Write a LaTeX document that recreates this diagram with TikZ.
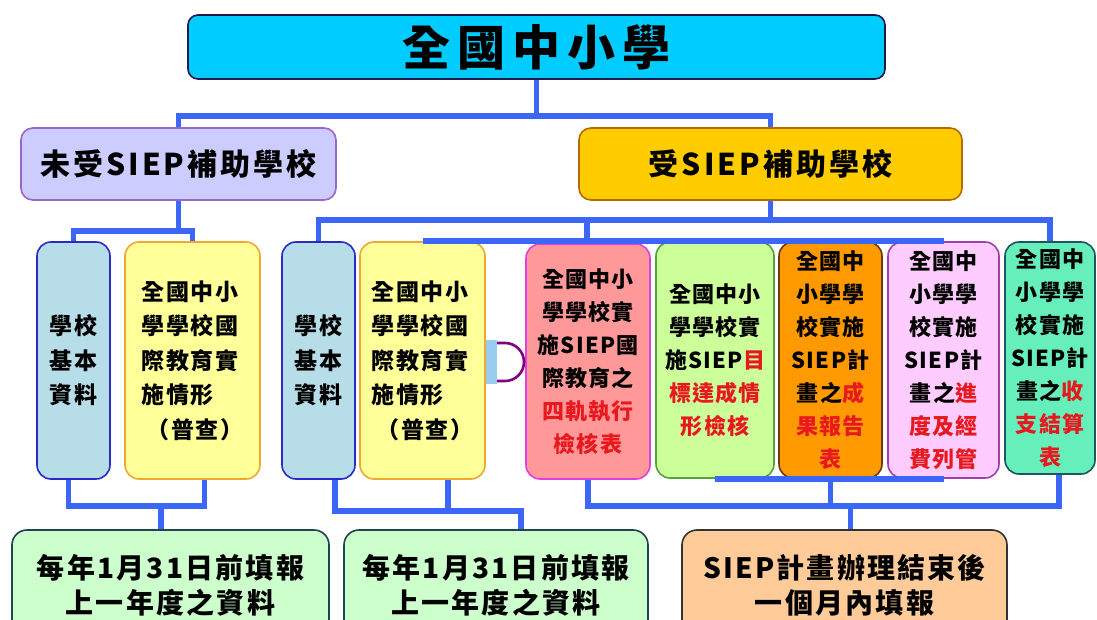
\documentclass[tikz,border=0pt]{standalone}
\usepackage{fontspec}
\setmainfont{Noto Sans CJK TC}
\newcommand\fsz[3]{\fontsize{#1}{#2}\selectfont\bfseries\addfontfeature{LetterSpace=#3}}
\newcommand\rd[1]{\textcolor{cRed}{#1}}
\definecolor{cTop}{HTML}{00CCFF}
\definecolor{cTopB}{HTML}{1A1A4D}
\definecolor{cLft}{HTML}{CCCCFF}
\definecolor{cLftB}{HTML}{9966CC}
\definecolor{cRgt}{HTML}{FFCC00}
\definecolor{cRgtB}{HTML}{B36B00}
\definecolor{cA}{HTML}{B7DDE8}
\definecolor{cAB}{HTML}{2A2AC8}
\definecolor{cY}{HTML}{FFFF99}
\definecolor{cYB}{HTML}{F0A830}
\definecolor{cC1}{HTML}{FF9999}
\definecolor{cC1B}{HTML}{E040E0}
\definecolor{cC2}{HTML}{CCFF99}
\definecolor{cC2B}{HTML}{55A040}
\definecolor{cC3}{HTML}{FF9900}
\definecolor{cC3B}{HTML}{6B3A10}
\definecolor{cC4}{HTML}{FFCCFF}
\definecolor{cC4B}{HTML}{A040B0}
\definecolor{cC5}{HTML}{66EEBB}
\definecolor{cC5B}{HTML}{1F5560}
\definecolor{cD}{HTML}{CCFFCC}
\definecolor{cDB}{HTML}{1F4550}
\definecolor{cD3}{HTML}{FFCC99}
\definecolor{cD3B}{HTML}{333333}
\definecolor{cLine}{HTML}{3C66F5}
\definecolor{cRed}{HTML}{E8191E}
\definecolor{cBr}{HTML}{99CCEE}
\definecolor{cArc}{HTML}{800080}
\tikzset{
  bx/.style={draw, line width=1.6pt, inner sep=0pt, align=center},
  tallbox/.style={bx, rounded corners=14pt, font=\fsz{22}{33}{6}},
  smallbox/.style={bx, rounded corners=14pt, font=\fsz{23}{34.5}{8}},
  bottombox/.style={bx, rounded corners=15pt, font=\fsz{28}{35}{8}},
  conn/.style={draw=cLine, line width=5.5pt},
}
\begin{document}
\begin{tikzpicture}[x=1pt,y=-1pt]
\clip (0,0) rectangle (1097,620);
\fill[white] (0,0) rectangle (1097,620);

\node[bx, fill=cTop, draw=cTopB, rounded corners=10pt, minimum width=697pt, minimum height=64pt, font=\fsz{48}{50}{15}] (top) at (536.5,47) {全國中小學};
\node[bx, fill=cLft, draw=cLftB, rounded corners=12pt, minimum width=315pt, minimum height=72pt, font=\fsz{30}{32}{10}] (lft) at (178.5,164) {未受SIEP補助學校};
\node[bx, fill=cRgt, draw=cRgtB, rounded corners=12pt, minimum width=383pt, minimum height=72pt, font=\fsz{30}{32}{10}] (rgt) at (770.5,164) {受SIEP補助學校};

\node[smallbox, fill=cA, draw=cAB, minimum width=73pt, minimum height=237pt] (a1) at (73.5,360.5) {學校\\基本\\資料};
\node[smallbox, fill=cY, draw=cYB, minimum width=135pt, minimum height=237pt, align=left] (a2) at (192.5,360.5) {全國中小\\學學校國\\際教育實\\施情形\\\hspace{5pt}（普查）};
\node[smallbox, fill=cA, draw=cAB, minimum width=73pt, minimum height=237pt] (b1) at (318.5,360.5) {學校\\基本\\資料};
\node[smallbox, fill=cY, draw=cYB, minimum width=125pt, minimum height=237pt, align=left] (b2) at (422.5,360.5) {全國中小\\學學校國\\際教育實\\施情形\\\hspace{5pt}（普查）};

\node[tallbox, fill=cC1, draw=cC1B, minimum width=124pt, minimum height=235pt] (c1) at (588,361.5) {全國中小\\學學校實\\施SIEP國\\際教育之\\\rd{四軌執行}\\\rd{檢核表}};
\node[tallbox, fill=cC2, draw=cC2B, minimum width=118pt, minimum height=236pt] (c2) at (715,360) {全國中小\\學學校實\\施SIEP\rd{目}\\\rd{標達成情}\\\rd{形檢核}};
\node[tallbox, fill=cC3, draw=cC3B, minimum width=103pt, minimum height=236pt] (c3) at (830.5,360) {全國中\\小學學\\校實施\\SIEP計\\畫之\rd{成}\\\rd{果報告}\\\rd{表}};
\node[tallbox, fill=cC4, draw=cC4B, minimum width=111pt, minimum height=236pt] (c4) at (943.5,360) {全國中\\小學學\\校實施\\SIEP計\\畫之\rd{進}\\\rd{度及經}\\\rd{費列管}};
\node[tallbox, fill=cC5, draw=cC5B, minimum width=90pt, minimum height=232pt] (c5) at (1050,358) {全國中\\小學學\\校實施\\SIEP計\\畫之\rd{收}\\\rd{支結算}\\\rd{表}};

\node[bottombox, fill=cD, draw=cDB, minimum width=317pt, minimum height=110pt] (d1) at (170.5,585) {每年1月31日前填報\\上一年度之資料};
\node[bottombox, fill=cD, draw=cDB, minimum width=304pt, minimum height=110pt] (d2) at (496,585) {每年1月31日前填報\\上一年度之資料};
\node[bottombox, fill=cD3, draw=cD3B, minimum width=325pt, minimum height=110pt] (d3) at (844.5,585) {SIEP計畫辦理結束後\\一個月內填報};

% bracket
\fill[cBr] (486,340) rectangle (497,384);
\draw[cArc, line width=2.6pt] (497,343) -- (505,343) arc[start angle=-90, end angle=90, radius=19] -- (497,381);

% connectors
\coordinate (j0) at (536.5,116);
\draw[conn] (top.south) -- (j0);
\draw[conn] (lft.north) |- (j0) -| (rgt.north);

\coordinate (j1) at (178.5,231);
\draw[conn] (lft.south) -- (j1);
\draw[conn] (a1.north) |- (j1) -| (a2.north);

\coordinate (a1b) at ([xshift=-5pt]a1.south);
\coordinate (a2b) at ([xshift=12pt]a2.south);
\coordinate (d1n) at ([xshift=-9.5pt]d1.north);
\draw[conn] (a1b) -- ++(0,26) -| (a2b);
\draw[conn] (d1n) -- ++(0,-25);

\coordinate (b1b) at ([xshift=16.5pt]b1.south);
\coordinate (b2b) at ([xshift=25.5pt]b2.south);
\coordinate (d2n) at ([xshift=25pt]d2.north);
\coordinate (k2) at (448,511);
\draw[conn] (b1b) |- (d2n |- k2) -- (d2n);
\draw[conn] (b2b) -- (k2);

\coordinate (j2) at (770.5,220);
\coordinate (j3) at (587,220);
\draw[conn] (rgt.south) -- (j2);
\draw[conn] (b1.north) |- (j2) -| (c5.north);
\draw[conn] (j3) -- (j3 |- b2.north);
\draw[conn] (b2.north) -- (c4.north);

\coordinate (c5b) at ([xshift=9pt]c5.south);
\coordinate (d3n) at ([xshift=6pt]d3.north);
\draw[conn] (c2.south) -- (c4.south);
\draw[conn] (c3.south) -- ++(0,27);
\draw[conn] (c1.south) -- ++(0,26) -| (c5b);
\draw[conn] (d3n) -- ++(0,-25);
\end{tikzpicture}
\end{document}
